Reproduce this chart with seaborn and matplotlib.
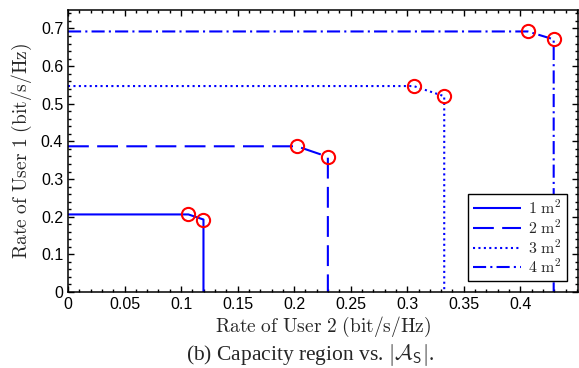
import matplotlib
matplotlib.use("Agg")
import matplotlib.pyplot as plt
import seaborn as sns
import pandas as pd

# ---- data ----
areas = ["1", "2", "3", "4"]                    # antenna area in m^2
r1_flat = [0.206, 0.387, 0.547, 0.692]          # Rate of User 1 on flat part
r2_knee1 = [0.1065, 0.2024, 0.3056, 0.4065]     # Rate of User 2 at first marker
r1_knee2 = [0.1925, 0.359, 0.520, 0.671]        # Rate of User 1 at second marker
r2_max = [0.1198, 0.2298, 0.3327, 0.4295]       # Rate of User 2 at second marker

x_ticks = [0, 0.05, 0.1, 0.15, 0.2, 0.25, 0.3, 0.35, 0.4]
x_tick_labels = ["0", "0.05", "0.1", "0.15", "0.2", "0.25", "0.3", "0.35", "0.4"]
y_ticks = [0, 0.1, 0.2, 0.3, 0.4, 0.5, 0.6, 0.7]
y_tick_labels = ["0", "0.1", "0.2", "0.3", "0.4", "0.5", "0.6", "0.7"]

sns.set_style("ticks")
plt.rcParams["font.family"] = ["Liberation Sans", "DejaVu Sans"]
plt.rcParams["mathtext.fontset"] = "cm"

fig = plt.figure(figsize=(5.79, 3.68), dpi=100)
ax = fig.add_axes([68 / 579, 1 - 292 / 368, 510 / 579, 282 / 368])

styles = [(0, ()), (0, (10, 4)), (0, (1, 1.6)), (0, (6.3, 2, 1, 2))]

rows = []
for i, a in enumerate(areas):
    xs = [0, r2_knee1[i], r2_max[i], r2_max[i]]
    ys = [r1_flat[i], r1_flat[i], r1_knee2[i], 0]
    for k, (xv, yv) in enumerate(zip(xs, ys)):
        rows.append({"area": a, "order": k, "r2": xv, "r1": yv})
df = pd.DataFrame(rows)

for i, a in enumerate(areas):
    sub = df[df["area"] == a]
    sns.lineplot(data=sub, x="r2", y="r1", sort=False, estimator=None,
                 color="#0000ff", lw=1.5, linestyle=styles[i], ax=ax,
                 label=r"$%s\ \mathrm{m}^2$" % a)

mk = pd.DataFrame({"r2": r2_knee1 + r2_max, "r1": r1_flat + r1_knee2})
ax.plot(mk["r2"], mk["r1"], linestyle="none", marker="o", markersize=9.5,
        markerfacecolor="none", markeredgecolor="#ff0000", markeredgewidth=1.5)

ax.set_xlim(0, 0.451)
ax.set_ylim(0, 0.749)
ax.set_xticks(x_ticks)
ax.set_xticklabels(x_tick_labels)
ax.set_yticks(y_ticks)
ax.set_yticklabels(y_tick_labels)
ax.xaxis.set_minor_locator(matplotlib.ticker.MultipleLocator(0.01))
ax.yaxis.set_minor_locator(matplotlib.ticker.MultipleLocator(0.02))
ax.tick_params(which="both", direction="in", top=True, right=True,
               colors="black", labelsize=11.5, width=1)
ax.tick_params(which="major", length=4.5)
ax.tick_params(which="minor", length=2.2)
for s in ax.spines.values():
    s.set_color("black")
    s.set_linewidth(1.1)

ax.set_xlabel(r"$\mathrm{Rate\ of\ User\ 2\ (bit/s/Hz)}$", fontsize=14, labelpad=2.5)
ax.set_ylabel(r"$\mathrm{Rate\ of\ User\ 1\ (bit/s/Hz)}$", fontsize=14, labelpad=5)

leg = ax.legend(loc="lower right", fontsize=11.5, handlelength=3.0,
                fancybox=False, framealpha=1, edgecolor="black",
                borderaxespad=0.7, labelspacing=0.08, borderpad=0.3,
                handletextpad=0.45)
leg.get_frame().set_linewidth(1.0)

fig.text(0.535, 1 - 355 / 368,
         r"(b) Capacity region vs. $|\mathcal{A}_{\mathsf{S}}|$.",
         ha="center", va="center", fontsize=15.5, family="Liberation Serif")

fig.savefig("out.png", dpi=100)
